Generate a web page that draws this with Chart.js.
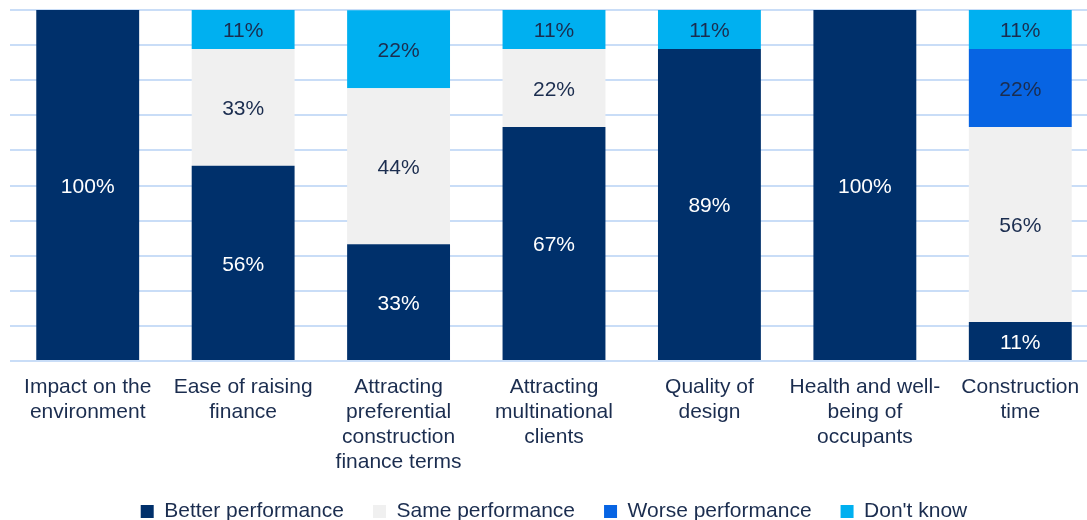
<!DOCTYPE html>
<html>
<head>
<meta charset="utf-8">
<script src="https://cdn.jsdelivr.net/npm/chart.js@4"></script>
<style>
  html, body { margin: 0; padding: 0; background: #fff; overflow: hidden; }
  #wrap { width: 1098px; height: 520px; }
</style>
</head>
<body>
<div id="wrap"><canvas id="bar-chart"></canvas></div>
<script>
// categories (multi-line x labels)
var categories = [
	["Impact on the", "environment"],
	["Ease of raising", "finance"],
	["Attracting", "preferential", "construction", "finance terms"],
	["Attracting", "multinational", "clients"],
	["Quality of", "design"],
	["Health and well-", "being of", "occupants"],
	["Construction", "time"]
];

// share of respondents, %
var better = [100, 55.6, 33.3, 66.7, 88.9, 100, 11.1];
var same   = [0, 33.3, 44.4, 22.2, 0, 0, 55.6];
var worse  = [0, 0, 0, 0, 0, 0, 22.2];
var dontKnow = [0, 11.1, 22.2, 11.1, 11.1, 0, 11.1];

var navyText = "#1b2d4f";
var fontFamily = "'Liberation Sans', Arial, sans-serif";

// draws the % value in the middle of each segment
var segmentLabels = {
	id: 'segmentLabels',
	afterDatasetsDraw: function(chart) {
		var ctx = chart.ctx;
		ctx.save();
		ctx.font = "21px " + fontFamily;
		ctx.textAlign = "center";
		ctx.textBaseline = "middle";
		chart.data.datasets.forEach(function(ds, i) {
			var meta = chart.getDatasetMeta(i);
			meta.data.forEach(function(bar, j) {
				var v = ds.data[j];
				if (!v) return;
				ctx.fillStyle = i === 0 ? "#ffffff" : navyText;
				ctx.fillText(Math.round(v) + "%", bar.x, (bar.y + bar.base) / 2 + 2);
			});
		});
		ctx.restore();
	}
};

// legend takes little room in the layout, but keeps wide item padding
var legendHeight = {
	id: 'legendHeight',
	beforeLayout: function(chart) {
		var lg = chart.legend;
		if (!lg || lg._patched) return;
		var fit = lg.fit;
		var draw = lg.draw;
		lg.fit = function() {
			fit.call(this);
			this.height = 31;
		};
		lg.draw = function() {
			var top = this.top, h = this.height;
			this.top = top - 17;
			this.height = this.bottom - this.top;
			draw.apply(this, arguments);
			this.top = top;
			this.height = h;
		};
		lg._patched = true;
	}
};

new Chart(document.getElementById("bar-chart"), {
	type: 'bar',
	data: {
		labels: categories,
		datasets: [{
				data: better,
				label: "Better performance",
				backgroundColor: "#00306b"
			}, {
				data: same,
				label: "Same performance",
				backgroundColor: "#f0f0f0"
			}, {
				data: worse,
				label: "Worse performance",
				backgroundColor: "#0764e3"
			}, {
				data: dontKnow,
				label: "Don't know",
				backgroundColor: "#00b0f0"
			}
		]
	},
	options: {
		responsive: true,
		maintainAspectRatio: false,
		animation: false,
		datasets: { bar: { categoryPercentage: 1, barPercentage: 0.662 } },
		layout: { padding: { left: 10, right: 0, top: 10, bottom: 0 } },
		scales: {
			x: {
				stacked: true,
				grid: { display: false, drawTicks: false },
				border: { display: false },
				ticks: {
					color: navyText,
					padding: 14,
					maxRotation: 0,
					autoSkip: false,
					font: { family: fontFamily, size: 21, lineHeight: 1.19 }
				}
			},
			y: {
				stacked: true,
				min: 0,
				max: 100,
				border: { display: false },
				grid: { color: "#c9ddf7", lineWidth: 2, drawTicks: false },
				ticks: { display: false, stepSize: 10 }
			}
		},
		plugins: {
			legend: {
				position: 'bottom',
				labels: {
					color: navyText,
					boxWidth: 13,
					boxHeight: 13,
					padding: 29,
					font: { family: fontFamily, size: 21 }
				}
			},
			tooltip: { enabled: false }
		}
	},
	plugins: [segmentLabels, legendHeight]
});
</script>
</body>
</html>
